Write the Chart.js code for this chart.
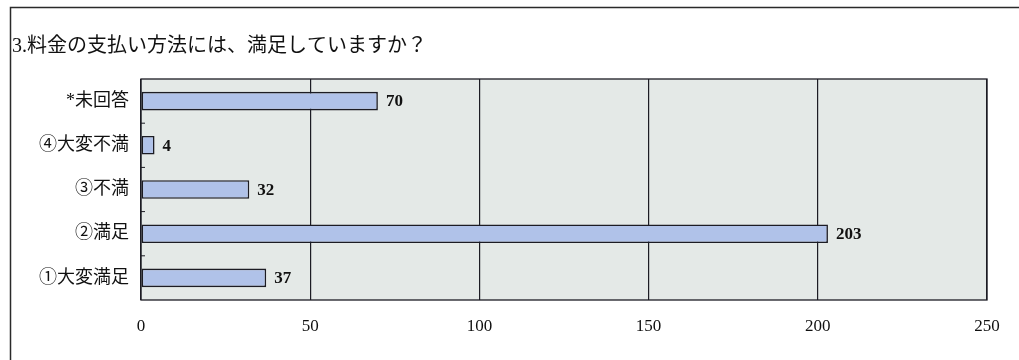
<!DOCTYPE html>
<html>
<head>
<meta charset="utf-8">
<script src="https://cdn.jsdelivr.net/npm/chart.js@4/dist/chart.umd.min.js"></script>
<style>
  html, body { margin: 0; padding: 0; background: #ffffff; }
  #wrap { position: relative; width: 1019px; height: 360px; }
</style>
</head>
<body>
<div id="wrap"><canvas id="chart" width="1019" height="360"></canvas></div>
<script>
const titleText = '3.料金の支払い方法には、満足していますか？';
const categories = ['*未回答', '④大変不満', '③不満', '②満足', '①大変満足'];
const answerCounts = [70, 4, 32, 203, 37];
const xTicks = [0, 50, 100, 150, 200, 250];

const fontFamily = "'Liberation Serif', 'Noto Sans CJK JP', serif";
const plotBg = '#e4e9e7';
const ink = '#1c1c24';

// frame round the whole figure, plot background and plot border
const framePlugin = {
  id: 'frame',
  beforeDraw(chart) {
    const { ctx, chartArea } = chart;
    ctx.save();
    ctx.fillStyle = '#ffffff';
    ctx.fillRect(0, 0, chart.width, chart.height);
    ctx.strokeStyle = '#2a2a2a';
    ctx.lineWidth = 1.5;
    ctx.beginPath();
    ctx.moveTo(10.5, chart.height);
    ctx.lineTo(10.5, 7.5);
    ctx.lineTo(chart.width, 7.5);
    ctx.stroke();
    ctx.fillStyle = plotBg;
    ctx.fillRect(chartArea.left, chartArea.top, chartArea.right - chartArea.left, chartArea.bottom - chartArea.top);
    ctx.restore();
  },
  afterDatasetsDraw(chart) {
    const { ctx, chartArea } = chart;
    ctx.save();
    ctx.strokeStyle = ink;
    ctx.lineWidth = 1.3;
    ctx.strokeRect(chartArea.left, chartArea.top, chartArea.right - chartArea.left, chartArea.bottom - chartArea.top);
    // small inside tick marks on the category axis
    const y = chart.scales.y;
    ctx.lineWidth = 1;
    for (let i = 1; i < categories.length; i++) {
      const py = (y.getPixelForValue(i - 1) + y.getPixelForValue(i)) / 2;
      ctx.beginPath();
      ctx.moveTo(chartArea.left, py);
      ctx.lineTo(chartArea.left + 4, py);
      ctx.stroke();
    }
    ctx.restore();
  }
};

// value labels at the end of each bar
const valueLabels = {
  id: 'valueLabels',
  afterDatasetsDraw(chart) {
    const { ctx } = chart;
    const meta = chart.getDatasetMeta(0);
    ctx.save();
    ctx.fillStyle = '#111111';
    ctx.font = 'bold 17px ' + fontFamily;
    ctx.textAlign = 'left';
    ctx.textBaseline = 'middle';
    meta.data.forEach((bar, i) => {
      ctx.fillText(String(answerCounts[i]), bar.x + 8, bar.y + 1);
    });
    ctx.restore();
  }
};

new Chart(document.getElementById('chart'), {
  type: 'bar',
  data: {
    labels: categories,
    datasets: [{
      data: answerCounts,
      backgroundColor: '#b0c2e9',
      borderColor: ink,
      borderWidth: 1.6,
      borderSkipped: false,
      barPercentage: 0.42,
      categoryPercentage: 1.0
    }]
  },
  options: {
    indexAxis: 'y',
    responsive: false,
    animation: false,
    layout: {
      padding: { left: 12, right: 32, top: 0, bottom: 0 }
    },
    plugins: {
      legend: { display: false },
      tooltip: { enabled: false },
      title: {
        display: true,
        text: titleText,
        align: 'start',
        color: '#111111',
        font: { family: fontFamily, size: 20, weight: 'normal', lineHeight: 1.2 },
        padding: { top: 35, bottom: 20 }
      }
    },
    scales: {
      x: {
        min: 0,
        max: 250,
        afterBuildTicks(scale) {
          scale.ticks = xTicks.map(v => ({ value: v }));
        },
        afterFit(scale) { scale.height = 60; },
        grid: { color: ink, lineWidth: 1.2, drawTicks: false },
        border: { display: false },
        ticks: {
          color: '#111111',
          padding: 16,
          maxRotation: 0,
          font: { family: fontFamily, size: 17 }
        }
      },
      y: {
        afterFit(scale) { scale.width = 129; },
        grid: { display: false, drawTicks: false },
        border: { display: false },
        ticks: {
          color: '#111111',
          padding: 12,
          font: { family: fontFamily, size: 18 }
        }
      }
    }
  },
  plugins: [framePlugin, valueLabels]
});
</script>
</body>
</html>
